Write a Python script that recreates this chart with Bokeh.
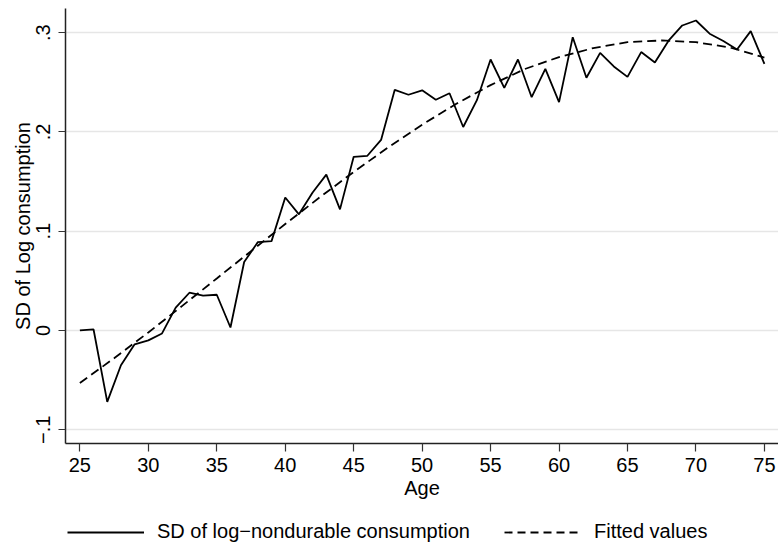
from bokeh.plotting import figure
from bokeh.layouts import column
from bokeh.models import FixedTicker, Legend, LegendItem, Range1d
from bokeh.embed import file_html
from bokeh.resources import INLINE

# ---- data ----
ages = list(range(25, 76))
sd_log_cons = [
    0.000, 0.001, -0.072, -0.035, -0.014, -0.010, -0.003, 0.023, 0.038, 0.035,
    0.036, 0.003, 0.069, 0.089, 0.090, 0.134, 0.117, 0.139, 0.157, 0.122,
    0.175, 0.176, 0.192, 0.2425, 0.2375, 0.242, 0.2325, 0.239, 0.205, 0.232,
    0.273, 0.2445, 0.273, 0.235, 0.2635, 0.230, 0.2955, 0.2546, 0.2797, 0.266,
    0.2555, 0.2805, 0.270, 0.292, 0.3073, 0.3123, 0.299, 0.2917, 0.2831, 0.3016,
    0.2687,
]
# fitted values
fit_ages = [25, 27.5, 30, 32.5, 35, 37.5, 40, 42.5, 45, 47.5, 50,
            52.5, 55, 57.5, 60, 62.5, 65, 67.5, 70, 72.5, 75]
fit_values = [-0.053, -0.028, -0.002, 0.025, 0.0524, 0.0799, 0.1072, 0.1339,
              0.1597, 0.1843, 0.2073, 0.2284, 0.2472, 0.2634, 0.2755, 0.2845,
              0.2905, 0.2922, 0.2905, 0.2850, 0.2750]
x_ticks = [25, 30, 35, 40, 45, 50, 55, 60, 65, 70, 75]
y_ticks = [-0.1, 0.0, 0.1, 0.2, 0.3]
y_tick_labels = ["\u2212.1", "0", ".1", ".2", ".3"]
series_label = "SD of log\u2212nondurable consumption"
fit_label = "Fitted values"
x_title = "Age"
y_title = "SD of Log consumption"

FONT = "Liberation Sans"
FS = "20px"
LW = 1.8

p = figure(width=778, height=508, output_backend="svg", toolbar_location=None,
           x_range=Range1d(23.95, 76.03), y_range=Range1d(-0.1139, 0.3244),
           min_border_left=65, min_border_right=0, min_border_top=8,
           min_border_bottom=65)
p.outline_line_color = None
p.background_fill_color = "white"
p.border_fill_color = "white"

p.line(ages, sd_log_cons, line_color="black", line_width=LW)
p.line(fit_ages, fit_values, line_color="black", line_width=LW, line_dash="9 5")

# axes
for ax in (p.xaxis[0], p.yaxis[0]):
    ax.axis_line_color = "#222222"
    ax.axis_line_width = 1.5
    ax.major_tick_line_color = "#333333"
    ax.major_tick_line_width = 1.2
    ax.major_tick_in = 0
    ax.minor_tick_out = 0
    ax.minor_tick_in = 0
    ax.major_label_text_font = FONT
    ax.major_label_text_font_size = FS
    ax.major_label_text_color = "black"
    ax.axis_label_text_font = FONT
    ax.axis_label_text_font_size = FS
    ax.axis_label_text_font_style = "normal"
    ax.axis_label_text_color = "black"

p.xaxis.ticker = FixedTicker(ticks=x_ticks)
p.xaxis.major_tick_out = 8
p.xaxis.major_label_standoff = 6
p.xaxis.axis_label = x_title
p.xaxis.axis_label_standoff = 2

p.yaxis.ticker = FixedTicker(ticks=y_ticks)
p.yaxis.major_label_overrides = {t: l for t, l in zip(y_ticks, y_tick_labels)}
p.yaxis.major_tick_out = 7
p.yaxis.major_label_standoff = 8
p.yaxis.major_label_orientation = "vertical"
p.yaxis.axis_label = y_title
p.yaxis.axis_label_standoff = 0

p.xgrid.visible = False
p.ygrid.ticker = FixedTicker(ticks=y_ticks)
p.ygrid.grid_line_color = "#e6e6e6"
p.ygrid.grid_line_width = 1.5

# ---- legend strip below the plot (its frame aligns with the plot's frame) ----
lg = figure(width=778, height=38, output_backend="svg", toolbar_location=None,
            x_axis_type=None, y_axis_type=None,
            x_range=Range1d(0, 1), y_range=Range1d(0, 1),
            min_border_left=65, min_border_right=0, min_border_top=0,
            min_border_bottom=0)
lg.outline_line_color = None
lg.grid.visible = False
lg.border_fill_color = "white"
# proxy renderers for the legend keys (their data lie outside this strip's ranges)
d1 = lg.line(ages, sd_log_cons, line_color="black", line_width=LW)
d2 = lg.line(fit_ages, fit_values, line_color="black", line_width=LW, line_dash="8 5")
legend = Legend(items=[LegendItem(label=series_label, renderers=[d1]),
                       LegendItem(label=fit_label, renderers=[d2])],
                orientation="horizontal", location=(2, 3),
                glyph_width=77, glyph_height=20, label_standoff=13, spacing=34,
                padding=0, margin=0, border_line_color=None,
                background_fill_alpha=0, label_text_font=FONT,
                label_text_font_size=FS, label_text_color="black")
lg.add_layout(legend)

layout = column(p, lg, spacing=0)
open("out.html", "w").write(file_html(layout, INLINE))
